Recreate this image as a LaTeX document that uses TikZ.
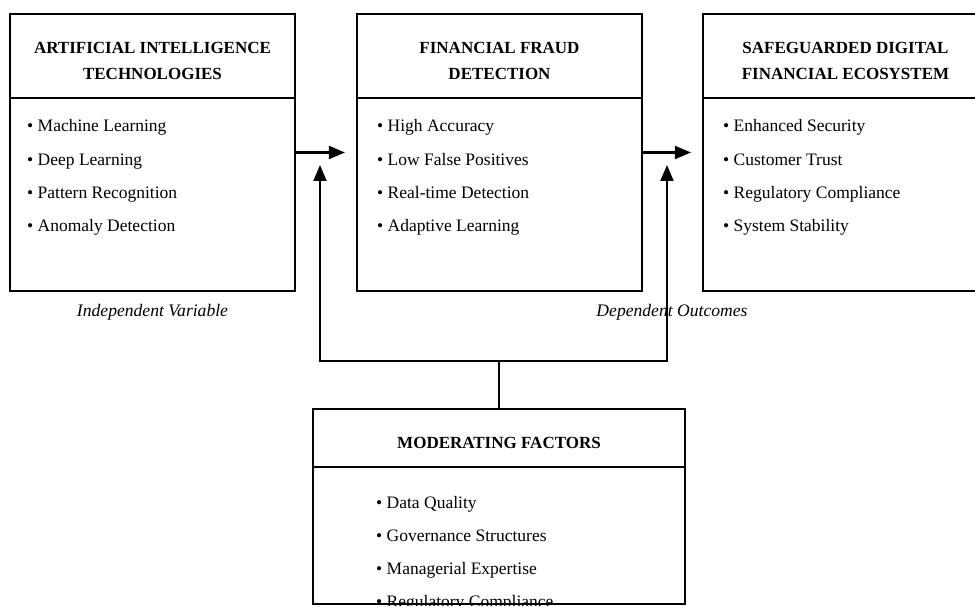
\documentclass[tikz,border=0pt]{standalone}
\usepackage{fontspec}
\setmainfont{Liberation Serif}
\usetikzlibrary{arrows.meta}
\tikzset{>={Triangle[length=16pt, width=13pt]}}

\begin{document}
\begin{tikzpicture}[
    x = 1pt, y = -1pt,
    font = \fontsize{17.5}{26}\selectfont,
    box/.style = {draw, line width = 2.1pt, inner sep = 0pt},
    head/.style = {font = \fontsize{17}{26}\selectfont\bfseries, align = center, inner sep = 0pt},
    item/.style = {anchor = base west, inner sep = 0pt},
    lbl/.style = {font = \fontsize{17.6}{26}\selectfont\itshape},
    link/.style = {line width = 2.1pt, ->},
    cut/.style = {line width = 1.5pt},
]

\useasboundingbox (0,0) rectangle (975,607);
\clip (0,0) rectangle (975,607);

\begin{scope}
\node[box, minimum width = 285pt, minimum height = 277pt] (ai) at (152.5,152.5) {};
\draw[cut] ([yshift=-85pt]ai.north west) -- ([yshift=-85pt]ai.north east);
\node[head] (ai-head) at (152.5,61) {ARTIFICIAL INTELLIGENCE\\TECHNOLOGIES};
\foreach \txt [count=\i] in {Machine Learning, Deep Learning, Pattern Recognition, Anomaly Detection}
    \node[item] (ai-\i) at (27, 99+33*\i) {\textbullet\ \txt};
\node[lbl] (indep) at (152.5,312) {Independent Variable};
\end{scope}

\begin{scope}
\node[box, minimum width = 285pt, minimum height = 277pt] (ffd) at (499.5,152.5) {};
\draw[cut] ([yshift=-85pt]ffd.north west) -- ([yshift=-85pt]ffd.north east);
\node[head] (ffd-head) at (499.5,61) {FINANCIAL FRAUD\\DETECTION};
\foreach \txt [count=\i] in {High Accuracy, Low False Positives, Real-time Detection, Adaptive Learning}
    \node[item] (ffd-\i) at (377, 99+33*\i) {\textbullet\ \txt};
\end{scope}

\begin{scope}
\node[box, minimum width = 285pt, minimum height = 277pt] (safe) at (845.5,152.5) {};
\draw[cut] ([yshift=-85pt]safe.north west) -- ([yshift=-85pt]safe.north east);
\node[head] (safe-head) at (845.5,61) {SAFEGUARDED DIGITAL\\FINANCIAL ECOSYSTEM};
\foreach \txt [count=\i] in {Enhanced Security, Customer Trust, Regulatory Compliance, System Stability}
    \node[item] (safe-\i) at (723, 99+33*\i) {\textbullet\ \txt};
\node[lbl] (dep) at (672,312) {Dependent Outcomes};
\end{scope}

\begin{scope}
\node[box, minimum width = 372pt, minimum height = 195pt] (mod) at (499,506.5) {};
\draw[cut] ([yshift=-59pt]mod.north west) -- ([yshift=-59pt]mod.north east);
\node[head] (mod-head) at (499,443) {MODERATING FACTORS};
\begin{scope}
\clip (mod.north west) rectangle (mod.south east); % last line runs off the box
\foreach \txt [count=\i] in {Data Quality, Governance Structures, Managerial Expertise, Regulatory Compliance}
    \node[item] (mod-\i) at (376, 475+33*\i) {\textbullet\ \txt};
\end{scope}
\end{scope}

\draw[link, shorten > = 11pt] (ai) -- (ffd);
\draw[link, shorten > = 11pt] (ffd) -- (safe);

\coordinate (fork) at ([yshift=47pt]mod.north);
\coordinate (up-l) at (320,165);
\coordinate (up-r) at (667,165);
\draw[line width = 2.1pt] (mod) -- (fork);
\draw[link] (fork) -| (up-l);
\draw[link] (fork) -| (up-r);

\end{tikzpicture}
\end{document}
